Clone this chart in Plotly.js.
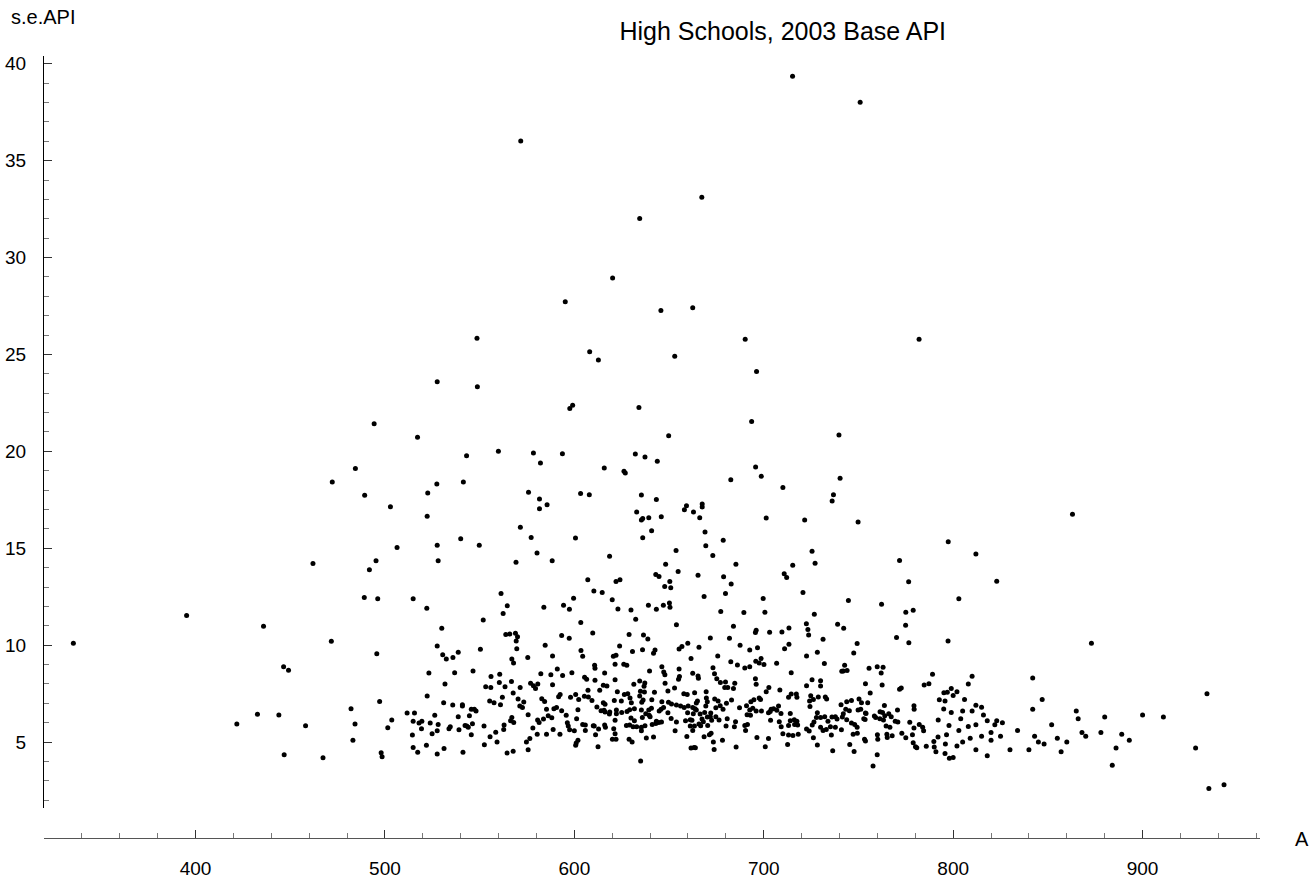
<!DOCTYPE html>
<html>
<head>
<meta charset="utf-8">
<script src="https://cdn.plot.ly/plotly-3.0.1.min.js"></script>
<style>
html,body{margin:0;padding:0;background:#fff;}
#chart{width:1309px;height:882px;}
</style>
</head>
<body>
<div id="chart"></div>
<script>
// ---- data (API, s.e.API) ----
const upperApi = [571.7,548.6,527.6,548.8,494.3,517.2,715.2,750.9,667.3,634.5,620.2,595.2,645.7,662.5,690.2,782.0,608.1,612.7,653.0,696.2,597.6,599.1,634.1,693.6,649.8,739.7];
const upperSe  = [36.01,25.84,23.59,23.33,21.43,20.73,39.35,38.01,33.11,32.01,28.95,27.72,27.27,27.41,25.78,25.78,25.14,24.71,24.91,24.12,22.21,22.38,22.26,21.54,20.80,20.85];

const leftApi = [335.5,395.3,435.9,484.4,472.2,489.3,502.9,522.3,522.6,527.4,506.4,527.6,528.1,462.0,495.3,491.8,489.1,496.2,514.9,522.1,471.7,495.7,527.6,523.2,446.5,449.1,497.2,522.3,482.1,432.7,444.0,421.8,458.1,484.2,503.6,501.5,511.7,515.6,514.9,518.0,519.5,519.3,523.9,526.3,528.1,527.6,524.9,514.5,483.1,514.9,517.3,521.9,527.6,446.8,467.3,498.0,498.5,530.0];
const leftSe  = [10.10,11.53,10.98,19.11,18.42,17.73,17.14,16.65,17.85,18.32,15.04,15.15,14.35,14.22,14.35,13.89,12.46,12.39,12.39,11.91,10.20,9.56,9.96,8.57,8.89,8.70,7.10,7.38,6.72,6.43,6.40,5.93,5.84,5.93,6.14,5.74,6.50,6.50,6.07,5.98,6.07,5.69,5.98,6.38,5.91,5.59,5.43,5.36,5.10,4.72,4.47,4.83,4.38,4.35,4.19,4.45,4.24,10.87];

const midApi = [543.1,559.9,578.4,582.1,593.7,632.2,637.3,643.8,615.8,626.2,626.9,541.4,575.8,581.6,585.6,581.6,603.3,607.9,635.4,643.3,632.9,636.1,635.4,639.3,645.9,640.8,636.1,659.2,658.1,571.5,577.2,600.6,540.0,549.8,580.3,569.2,588.3,618.6,653.7,648.2,654.8,643.0,644.7,650.4,647.7,650.9,607.1,622.0,624.1,610.3,614.7,561.3,620.0,599.6,564.6,562.4,583.9,594.3,597.4,623.0,629.9,639.1,643.3,647.0,650.2,650.5,551.9,603.4,632.4,653.9];
const midSe  = [19.78,20.00,19.92,19.40,19.88,19.87,19.71,19.49,19.14,18.97,18.88,18.42,17.89,17.54,17.25,17.04,17.82,17.76,17.75,17.51,16.87,16.54,16.46,16.58,16.63,15.90,15.54,17.20,16.99,16.09,15.56,15.53,15.49,15.16,14.75,14.28,14.35,14.59,14.89,14.18,13.80,13.65,13.54,13.29,13.03,12.96,13.37,13.29,13.37,12.79,12.72,12.67,12.34,12.42,12.03,11.63,11.96,12.06,11.86,11.87,11.82,12.06,11.86,12.06,12.17,11.96,11.30,11.17,11.34,11.06];

const midRightApi = [695.7,698.7,682.6,710.1,740.3,736.8,736.1,667.5,667.5,662.9,666.2,701.3,721.6,749.8,669.0,678.6,669.4,673.1,725.5,727.1,715.3,685.3,710.8,712.1,665.3,678.8,682.8,771.7,797.4,776.5,679.8,720.7,668.5,699.7,744.7,762.2,677.3,689.5,700.6,726.7,775.0,778.9];
const midRightSe  = [19.19,18.71,18.54,18.13,18.61,17.76,17.44,17.28,17.13,16.87,16.58,16.56,16.46,16.35,15.84,15.42,15.13,14.63,14.85,14.23,14.13,14.18,13.68,13.49,13.61,13.53,13.15,14.37,15.34,13.27,12.67,12.72,12.51,12.41,12.30,12.11,11.74,11.68,11.70,11.60,11.70,11.80];

const denseAApi = [609.7,563.8,565.9,568.9,570.0,569.3,593.3,597.3,628.9,636.5,638.8,
584.6,623.9,659.9,656.8,655.3,550.4,569.6,603.5,604.4,630.7,636.0,642.6,641.8,530.5,532.4,535.9,538.7,588.5,620.6,622.0,575.4,567.0,567.9,
621.5,626.1,627.7,610.7,610.9,591.0,639.7,646.2,647.2,647.8,655.3,536.8,546.5,582.3,587.6,593.8,598.7,616.0,560.6,556.0,
605.4,606.5,610.9,621.5,631.4,634.5,637.2,636.8,647.9,655.0,655.5,531.7,560.4,566.8,563.4,553.2,555.9,571.4,576.9,578.4,580.7,579.5,588.5,615.3,617.2,607.2,613.4,622.7,626.4,628.2,634.9,637.0,642.3,649.4,652.9,657.8,659.6,
567.7,582.8,584.3,592.5,591.7,598.0,600.7,602.3,605.3,607.4,609.3,611.9,615.3,616.2,614.1,621.1,624.8,629.4,630.1,634.5,636.3,635.6,640.9,646.2,649.7,651.3,653.9,656.1,658.0,660.1,562.0,570.3,573.3,571.2,572.6,555.3,557.6,561.0,540.9,540.9,535.8,531.0,548.1,545.6,547.2,
575.6,585.3,589.2,590.6,593.3,595.7,601.9,615.7,616.2,618.7,622.2,622.2,618.5,625.0,627.8,629.2,631.7,635.4,639.3,640.7,637.7,639.5,640.0,644.8,645.8,647.1,649.4,659.8,538.7,544.6,586.2,588.1,601.2,629.9,631.7,635.9,651.1,653.9,658.7,661.2,580.6,581.4,583.7,567.0,568.0,566.3,562.9,552.3,543.2,544.0,542.3,546.2,534.5,533.8,539.1,545.6,596.3,596.8,604.4,605.8,610.0,616.0,616.4,621.5,629.2,631.0,637.3,635.4,643.3,643.0,644.6,646.0,661.2,
562.7,558.5,555.5,578.1,580.4,585.3,588.8,592.4,597.5,600.0,605.8,611.2,610.5,612.8,620.8,621.5,620.1,622.0,632.9,635.4,641.1,653.2,659.4,627.5,576.5,574.7,559.2,552.5,531.2,541.2,564.5,567.7,575.6,601.0,601.9,600.7,612.5,628.9,630.5,638.0,641.8,635.0];
const denseASe = [10.63,10.55,10.58,10.62,10.44,10.22,10.50,10.36,10.55,10.53,10.32,
9.99,9.96,10.10,9.93,9.80,9.79,9.81,9.72,9.43,9.67,9.77,9.75,9.58,9.51,9.29,9.36,9.63,9.44,9.43,9.48,9.36,9.29,9.08,
9.01,9.01,8.96,8.96,8.81,8.77,8.67,8.89,8.62,8.48,8.77,8.58,8.67,8.53,8.48,8.43,8.58,8.57,8.50,8.38,
8.34,8.24,8.19,8.22,7.98,8.15,8.05,7.88,8.03,8.24,8.38,8.00,8.08,8.12,7.86,7.86,7.82,7.81,8.03,7.91,8.00,7.76,7.96,7.93,7.89,7.67,7.67,7.60,7.45,7.50,7.62,7.58,7.57,7.63,7.79,7.50,7.45,
7.53,7.24,7.10,7.46,7.34,7.31,7.46,7.20,7.36,7.32,7.15,6.81,7.03,6.95,6.62,7.15,7.12,7.27,7.03,7.38,7.17,7.05,7.19,7.08,7.05,6.96,6.91,6.86,6.79,6.86,7.31,7.22,7.07,6.86,6.79,7.12,7.03,6.93,6.93,6.86,6.91,7.03,6.60,6.69,6.69,
6.41,6.69,6.72,6.79,6.62,6.39,6.67,6.64,6.55,6.55,6.65,6.46,6.45,6.52,6.58,6.67,6.72,6.65,6.65,6.74,6.46,6.38,6.31,6.60,6.69,6.79,6.51,6.51,6.31,6.36,6.36,6.26,6.21,6.24,6.10,6.27,6.22,6.03,6.10,6.15,6.14,6.01,6.19,6.27,6.01,6.10,5.88,5.83,5.83,5.76,5.86,5.95,5.79,5.69,5.64,5.38,6.00,5.83,5.91,5.88,5.84,5.88,5.77,6.12,5.88,5.79,5.84,5.76,6.08,5.96,6.01,6.03,5.83,
5.65,5.51,5.27,5.72,5.41,5.41,5.65,5.41,5.64,5.58,5.60,5.38,5.83,5.67,5.69,5.43,5.15,5.15,5.79,5.58,5.91,5.58,5.29,5.86,5.19,5.00,5.00,4.86,4.67,4.48,4.43,4.53,4.60,4.95,5.10,4.84,4.76,5.14,5.00,5.21,5.26,4.02];

const denseBApi = [684.0,695.6,696.0,703.1,709.6,713.3,722.5,723.3,723.7,739.0,742.2,774.9,671.8,681.9,770.1,776.6,797.3,
665.8,687.5,692.6,696.7,711.0,713.3,731.3,749.3,747.5,722.6,728.3,675.7,698.6,695.8,697.6,700.1,661.6,682.6,686.1,690.0,692.6,706.8,732.0,742.7,742.0,741.2,744.0,755.6,759.9,763.0,762.0,789.1,714.5,
662.5,665.3,665.5,673.2,674.0,675.2,677.1,679.8,684.7,684.0,679.4,681.0,695.6,696.0,702.7,701.3,708.5,722.6,725.5,730.0,730.0,753.7,762.5,772.6,771.7,784.7,787.2,795.1,796.9,799.0,669.6,663.5,756.2,714.5,713.1,717.2,717.5,724.8,726.2,728.8,733.2,732.5,
665.0,664.4,662.5,663.7,664.4,669.7,670.2,669.4,674.1,675.9,677.0,680.3,683.0,674.7,668.8,672.0,678.5,687.2,690.9,693.2,694.8,697.6,698.3,692.6,694.2,696.0,698.8,702.5,703.9,707.8,705.2,706.9,709.1,724.2,724.4,740.8,743.8,746.3,750.3,751.6,754.9,753.7,751.2,749.8,763.7,770.6,779.3,779.4,792.7,795.7,795.0,799.0,745.2,743.3,742.0,
662.8,662.1,663.4,662.5,666.4,667.4,668.1,665.8,670.2,671.8,672.5,666.7,670.4,674.7,676.4,680.7,680.1,685.1,684.5,690.0,690.4,691.2,693.0,691.4,703.6,703.4,708.2,709.2,714.0,714.0,716.1,717.5,716.3,717.9,713.1,710.1,713.1,715.4,718.2,728.3,727.8,726.5,725.6,722.6,724.0,730.0,732.2,733.9,730.0,731.3,733.0,736.0,737.8,738.7,735.2,737.8,741.5,741.0,735.7,743.8,746.3,748.0,749.3,747.2,749.4,752.8,754.0,753.5,758.4,759.1,761.3,761.4,762.7,763.9,766.0,767.3,769.4,770.8,763.2,764.6,766.6,777.1,779.3,782.1,783.9,784.4,772.9,775.0,778.5,792.1,797.8,
672.2,668.5,671.3,673.4,673.8,678.2,685.4,696.4,702.5,700.8,712.6,726.2,728.3,736.4,745.4,747.7,753.2,753.7,760.0,760.2,759.9,765.0,765.2,767.8,778.9,780.1,780.8,785.8,789.8,790.0,790.9,792.0,795.9,796.5,795.7,798.0,757.7,661.6,663.2,663.9];
const denseBSe = [10.98,10.65,10.77,10.67,10.68,10.89,11.10,10.81,10.53,11.08,10.87,11.03,10.37,10.36,10.39,10.13,10.22,
9.89,10.00,9.75,9.87,9.82,10.05,10.31,10.08,9.60,9.44,9.63,9.44,9.31,9.17,9.08,9.00,9.31,9.15,8.98,8.82,8.89,9.07,9.05,8.96,8.67,8.65,8.69,8.81,8.89,8.86,8.57,8.50,8.58,
8.55,8.41,8.29,8.84,8.53,8.27,8.07,8.10,8.03,7.77,7.81,7.81,8.27,7.98,7.81,7.60,7.69,7.91,8.21,8.17,7.89,8.01,7.94,7.79,7.72,7.94,8.01,7.55,7.57,7.77,7.60,7.55,7.53,7.48,7.31,7.48,7.31,7.39,7.20,7.33,7.22,7.33,
7.12,7.01,6.79,6.72,6.65,7.27,7.08,6.86,7.22,7.12,6.88,7.00,7.17,6.77,6.53,6.50,6.69,6.77,6.88,7.08,7.19,7.27,7.20,6.65,6.74,6.60,6.60,6.51,6.69,6.86,6.72,6.64,6.48,7.12,6.83,6.93,7.08,7.14,7.22,7.03,7.03,6.50,6.69,6.65,6.89,6.65,6.88,6.69,7.19,7.12,6.71,6.53,6.62,6.69,6.46,
6.46,6.12,5.83,5.60,6.45,6.19,6.05,5.93,6.29,6.31,6.12,5.84,5.86,6.31,6.14,6.20,5.83,6.05,5.79,5.86,5.60,6.41,6.38,5.91,6.12,6.58,6.05,5.79,6.48,6.10,6.15,6.08,5.91,5.88,5.86,5.43,5.36,5.34,5.40,6.51,6.27,6.03,5.88,5.67,5.57,6.27,6.31,6.08,5.76,5.60,5.65,6.29,6.31,6.19,5.79,5.76,6.29,5.64,5.36,6.15,5.98,5.91,5.76,5.41,5.45,6.20,6.48,6.17,6.34,6.27,6.20,6.57,6.52,6.36,6.46,6.31,6.08,6.03,6.14,5.83,5.76,6.02,5.72,5.91,5.76,5.58,5.45,5.22,5.38,6.14,5.86,
5.45,5.28,5.38,5.00,4.62,5.10,4.74,5.24,5.19,4.76,4.88,5.22,4.85,4.55,4.88,4.52,5.14,5.05,5.38,5.14,4.34,5.40,5.24,5.33,4.97,4.76,4.71,4.79,5.03,4.74,4.50,5.26,4.90,5.38,4.41,4.17,3.76,4.69,4.72,4.71];

const rightApi = [803,812,823,863,873,842,810,808,802,800,805,812,815,818,820,822,825,826,830,834,840,842,843,845,848,852,855,857,860,865,866,868,870,878,880,884,886,889,893,900,911,928,934,935,943,803,805,808,812,815,818,820,802,800,806,809,823,847,812,816,804,810];
const rightSe  = [12.4,14.7,13.3,16.75,10.1,8.3,8.4,8.0,7.6,7.4,6.6,6.9,6.8,6.1,5.5,5.9,5.3,6.0,4.6,5.6,4.6,6.7,5.3,5.0,4.9,5.9,5.2,4.5,5.0,6.6,6.2,5.5,5.3,5.5,6.3,3.8,4.7,5.4,5.1,6.4,6.3,4.7,7.5,2.6,2.8,5.6,5.0,5.8,4.6,5.3,4.3,5.1,4.8,4.2,7.2,5.2,6.1,7.2,5.9,6.4,6.2,6.6];

const xTickVals = [400,500,600,700,800,900];
const xTickText = ['400','500','600','700','800','900'];
const yTickVals = [5,10,15,20,25,30,35,40];
const yTickText = ['5','10','15','20','25','30','35','40'];

const titleText = 'High Schools, 2003 Base API';
const yLabel = 's.e.API';
const xLabel = 'API';

// ---- build ----
const apiAll = [].concat(upperApi, leftApi, midApi, midRightApi, denseAApi, denseBApi, rightApi);
const seAll  = [].concat(upperSe, leftSe, midSe, midRightSe, denseASe, denseBSe, rightSe);

const FONT = 'Liberation Sans, Arial, Helvetica, sans-serif';

const trace = {
  type: 'scatter', mode: 'markers',
  x: apiAll, y: seAll,
  marker: {size: 5, color: '#000', line: {width: 0}},
  hoverinfo: 'skip', cliponaxis: false
};

const layout = {
  width: 1309, height: 882,
  margin: {l: 44, r: 49, t: 56, b: 44},
  paper_bgcolor: '#fff', plot_bgcolor: '#fff',
  showlegend: false,
  font: {family: FONT, color: '#000'},
  title: {
    text: titleText, font: {family: FONT, size: 25, color: '#000'},
    x: 0.598, xref: 'container', xanchor: 'center',
    y: 0.965, yref: 'container', yanchor: 'middle'
  },
  xaxis: {
    range: [320, 962], anchor: 'free', position: 0,
    showline: true, linecolor: '#555', linewidth: 1,
    showgrid: false, zeroline: false,
    ticks: 'inside', ticklen: 8, tickwidth: 1, tickcolor: '#333',
    tickmode: 'array', tickvals: xTickVals, ticktext: xTickText,
    tickfont: {family: FONT, size: 19, color: '#000'},
    ticklabelstandoff: 13,
    minor: {tickmode: 'linear', tick0: 0, dtick: 20, ticks: 'inside', ticklen: 5, tickwidth: 1, tickcolor: '#777', showgrid: false}
  },
  yaxis: {
    domain: [0.0384, 1], range: [1.6, 40.4],
    showline: true, linecolor: '#000', linewidth: 1,
    showgrid: false, zeroline: false,
    ticks: 'inside', ticklen: 8, tickwidth: 1, tickcolor: '#333',
    tickmode: 'array', tickvals: yTickVals, ticktext: yTickText,
    tickfont: {family: FONT, size: 19, color: '#000'},
    ticklabelstandoff: 13,
    minor: {tickmode: 'linear', tick0: 0, dtick: 1, ticks: 'inside', ticklen: 5, tickwidth: 1, tickcolor: '#777', showgrid: false}
  },
  annotations: [
    {text: yLabel, xref: 'paper', yref: 'paper', x: -0.0288, y: 1.0499, xanchor: 'left', yanchor: 'middle', showarrow: false, font: {family: FONT, size: 20, color: '#000'}},
    {text: xLabel, xref: 'paper', yref: 'paper', x: 1.0271, y: -0.0013, xanchor: 'left', yanchor: 'middle', showarrow: false, font: {family: FONT, size: 20, color: '#000'}}
  ]
};

Plotly.newPlot('chart', [trace], layout, {staticPlot: true, displayModeBar: false});
</script>
</body>
</html>
